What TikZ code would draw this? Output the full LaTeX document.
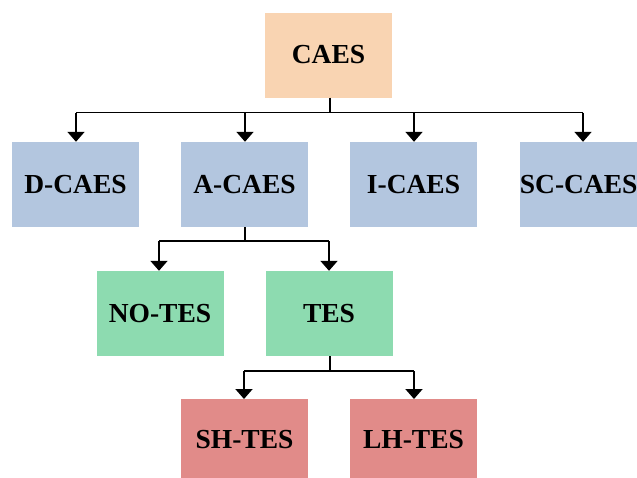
\documentclass[tikz,border=0pt]{standalone}
\usepackage{fontspec}
\setmainfont{Liberation Serif}
\usetikzlibrary{arrows.meta}
\definecolor{cpeach}{HTML}{F9D4B2}
\definecolor{cblue}{HTML}{B3C6DF}
\definecolor{cgreen}{HTML}{8DDBB0}
\definecolor{cred}{HTML}{E18B89}
\begin{document}
\begin{tikzpicture}[x=1pt,y=-1pt,
  box/.style={minimum width=127pt,minimum height=85pt,inner sep=0pt,font=\fontsize{27.5}{30}\selectfont\bfseries,text=black},
  conn/.style={line width=1.9pt,black},
  arr/.style={conn,-{Triangle[width=17pt,length=10pt]}}]
\useasboundingbox (0,0) rectangle (637,477);
\node[box,fill=cpeach] (caes) at (328.5,55) {CAES};
\node[box,fill=cblue] (d) at (75.5,184.5) {D-CAES};
\node[box,fill=cblue] (a) at (244.5,184.5) {A-CAES};
\node[box,fill=cblue] (i) at (413.5,184.5) {I-CAES};
\node[box,fill=cblue,minimum width=118pt,anchor=west] (sc) at (519.5,184.5) {SC-CAES};
\node[box,fill=cgreen] (no) at (160,313.5) {NO-TES};
\node[box,fill=cgreen] (tes) at (329,313.5) {TES};
\node[box,fill=cred,minimum height=80pt,anchor=north] (sh) at (244.5,399) {SH-TES};
\node[box,fill=cred,minimum height=80pt,anchor=north] (lh) at (413.5,399) {LH-TES};
\coordinate (j1) at (330,112.5);
\draw[conn] (caes.south -| j1) -- (j1);
\draw[conn] (76,112.5) -- (583,112.5);
\draw[arr] (76,112.5) -- (d.north -| 76,0);
\draw[arr] (245,112.5) -- (a.north -| 245,0);
\draw[arr] (414,112.5) -- (i.north -| 414,0);
\draw[arr] (583,112.5) -- (sc.north -| 583,0);
\draw[conn] (a.south -| 245,0) -- (245,241) ;
\draw[conn] (159,241) -- (329,241);
\draw[arr] (159,241) -- (no.north -| 159,0);
\draw[arr] (329,241) -- (tes.north -| 329,0);
\draw[conn] (tes.south -| 330,0) -- (330,371);
\draw[conn] (244,371) -- (414,371);
\draw[arr] (244,371) -- (sh.north -| 244,0);
\draw[arr] (414,371) -- (lh.north -| 414,0);
\end{tikzpicture}
\end{document}
